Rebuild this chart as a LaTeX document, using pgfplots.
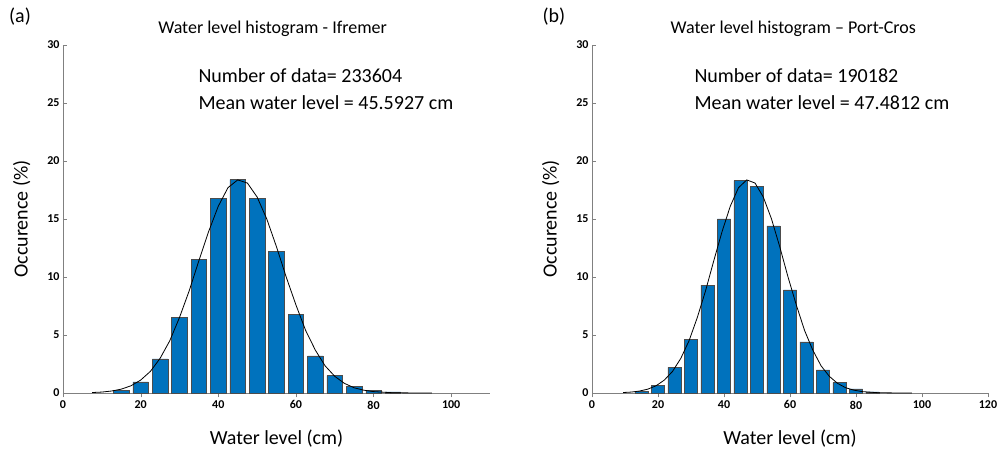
\documentclass[border=0pt]{standalone}
\usepackage{pgfplots}
\pgfplotsset{compat=1.18}
\usepackage{fontspec}
\setmainfont{Carlito}
\definecolor{barblue}{RGB}{0,114,189}
\pgfplotsset{
 hist/.style={scale only axis,width=427pt,height=348pt,ymin=0,ymax=30,xmin=0,
  axis lines=left,axis line style={gray,-},tick style={gray},
  ytick={0,5,...,30},xtick={0,20,...,120},tick align=inside,
  ticklabel style={font=\fontsize{12}{13}\selectfont\bfseries},
  /pgf/number format/assume math mode=true,
  xlabel={Water level (cm)},ylabel={Occurence (\%)},
  label style={font=\fontsize{20}{22}\selectfont},
  xlabel style={yshift=-14pt},
  ylabel style={yshift=10pt},
  ybar,bar width=4,bar shift=0pt,clip=false},
 barsty/.style={fill=barblue,draw=black!70,line width=0.5pt},
 curv/.style={sharp plot,black,thick,mark=none}
}
\begin{document}
\begin{tikzpicture}
\useasboundingbox (-63pt,-64pt) rectangle (939pt,393pt);
\begin{axis}[hist,xmax=110]
\addplot[barsty] coordinates {(15,0.2)(20,0.95)(25,2.95)(30,6.5)(35,11.5)(40,16.8)(45,18.4)(50,16.8)(55,12.2)(60,6.8)(65,3.2)(70,1.5)(75,0.6)(80,0.25)(85,0.1)};
\addplot[curv] coordinates {(7.5,0.04)(10,0.08)(12.5,0.17)(15,0.33)(17.5,0.62)(20,1.11)(22.5,1.86)(25,2.98)(27.5,4.5)(30,6.5)(32.5,8.8)(35,11.4)(37.5,13.9)(40,16.1)(42.5,17.7)(45,18.37)(47.5,18.1)(50,16.9)(52.5,15.0)(55,12.6)(57.5,10.0)(60,7.6)(62.5,5.4)(65,3.7)(67.5,2.35)(70,1.44)(72.5,0.83)(75,0.45)(77.5,0.24)(80,0.12)(85,0.02)(90,0.005)(95,0)};
\node[anchor=south,font=\fontsize{18}{20}\selectfont] at (axis cs:54,30.4) {Water level histogram - Ifremer};
\node[anchor=west,font=\fontsize{20}{22}\selectfont] at (axis cs:34,27.4) {Number of data= 233604};
\node[anchor=west,font=\fontsize{20}{22}\selectfont] at (axis cs:34,25.0) {Mean water level = 45.5927 cm};
\node[font=\fontsize{20}{22}\selectfont] at (-43pt,376pt) {(a)};
\end{axis}
\begin{axis}[hist,xmax=120,xshift=529pt,width=396pt]
\addplot[barsty] coordinates {(15,0.15)(20,0.67)(25,2.2)(30,4.6)(35,9.3)(40,15.0)(45,18.3)(50,17.8)(55,14.4)(60,8.9)(65,4.4)(70,2.0)(75,0.9)(80,0.35)(85,0.1)};
\addplot[curv] coordinates {(9.4,0.04)(11.9,0.08)(14.4,0.17)(16.9,0.33)(19.4,0.62)(21.9,1.11)(24.4,1.86)(26.9,2.98)(29.4,4.5)(31.9,6.5)(34.4,8.8)(36.9,11.4)(39.4,13.9)(41.9,16.1)(44.4,17.7)(46.9,18.37)(49.4,18.1)(51.9,16.9)(54.4,15.0)(56.9,12.6)(59.4,10.0)(61.9,7.6)(64.4,5.4)(66.9,3.7)(69.4,2.35)(71.9,1.44)(74.4,0.83)(76.9,0.45)(79.4,0.24)(81.9,0.12)(86.9,0.02)(91.9,0.005)(96.9,0)};
\node[anchor=south,font=\fontsize{18}{20}\selectfont] at (axis cs:61,30.4) {Water level histogram – Port-Cros};
\node[anchor=west,font=\fontsize{20}{22}\selectfont] at (axis cs:30,27.4) {Number of data= 190182};
\node[anchor=west,font=\fontsize{20}{22}\selectfont] at (axis cs:30,25.0) {Mean water level = 47.4812 cm};
\node[font=\fontsize{20}{22}\selectfont] at (-38pt,376pt) {(b)};
\end{axis}
\end{tikzpicture}
\end{document}
